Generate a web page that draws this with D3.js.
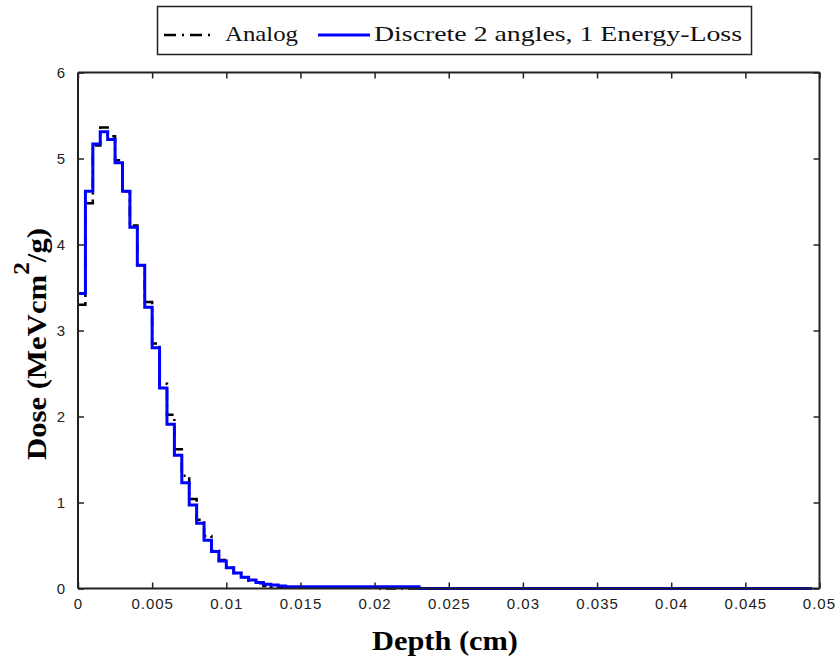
<!DOCTYPE html>
<html>
<head>
<meta charset="utf-8">
<script src="https://cdn.jsdelivr.net/npm/d3@7"></script>
<style>
  html, body { margin: 0; padding: 0; background: #ffffff; }
  svg { display: block; }
</style>
</head>
<body>
<svg id="chart" width="836" height="662"></svg>
<script>
// ---- data ----
const binWidth = 0.0005;
const discrete = [3.43, 4.62, 5.17, 5.31, 5.22, 4.95, 4.62, 4.20, 3.76, 3.27,
  2.80, 2.33, 1.91, 1.55, 1.23, 0.97, 0.76, 0.56, 0.43, 0.32,
  0.24, 0.18, 0.13, 0.10, 0.07, 0.05, 0.04, 0.03, 0.02, 0.02,
  0.02, 0.02, 0.02, 0.02, 0.02, 0.02, 0.02, 0.02, 0.02, 0.02,
  0.02, 0.02, 0.02, 0.02, 0.02, 0.02, 0.0, 0.0, 0.0, 0.0,
  0, 0, 0, 0, 0, 0, 0, 0, 0, 0,
  0, 0, 0, 0, 0, 0, 0, 0, 0, 0,
  0, 0, 0, 0, 0, 0, 0, 0, 0, 0,
  0, 0, 0, 0, 0, 0, 0, 0, 0, 0,
  0, 0, 0, 0, 0, 0, 0, 0, 0, 0];
const analog = [3.30, 4.48, 5.15, 5.36, 5.26, 4.98, 4.62, 4.22, 3.76, 3.33,
  2.85, 2.38, 2.02, 1.62, 1.31, 1.04, 0.80, 0.61, 0.44, 0.33,
  0.24, 0.18, 0.13, 0.09, 0.06, 0.03, 0.02, 0.01, 0.01, 0.01,
  0.01, 0.01, 0.01, 0.01, 0.01, 0.01, 0.01, 0.01, 0.01, 0.01,
  0, 0, 0, 0, 0, 0, 0, 0, 0, 0,
  0, 0, 0, 0, 0, 0, 0, 0, 0, 0,
  0, 0, 0, 0, 0, 0, 0, 0, 0, 0,
  0, 0, 0, 0, 0, 0, 0, 0, 0, 0,
  0, 0, 0, 0, 0, 0, 0, 0, 0, 0,
  0, 0, 0, 0, 0, 0, 0, 0, 0, 0];
const xTicks = [0, 0.005, 0.01, 0.015, 0.02, 0.025, 0.03, 0.035, 0.04, 0.045, 0.05];
const xTickLabels = ["0", "0.005", "0.01", "0.015", "0.02", "0.025", "0.03", "0.035", "0.04", "0.045", "0.05"];
const yTicks = [0, 1, 2, 3, 4, 5, 6];
const yTickLabels = ["0", "1", "2", "3", "4", "5", "6"];
const seriesNames = ["Analog", "Discrete 2 angles, 1 Energy-Loss"];
const xLabel = "Depth (cm)";

// ---- layout ----
const L = 78, R = 819.5, T = 72.5, B = 588.5;
const svg = d3.select("#chart");
const x = d3.scaleLinear().domain([0, 0.05]).range([L, R]);
const y = d3.scaleLinear().domain([0, 6]).range([B, T]);

const tickFont = "'Liberation Sans', Arial, sans-serif";
const serif = "'Liberation Serif', 'Times New Roman', serif";

// lines
const toPts = arr => arr.map((v, i) => [i * binWidth, v]);
const line = d3.line().x(d => x(d[0])).y(d => y(d[1])).curve(d3.curveStepAfter);

const plot = svg.append("g");
plot.append("path").datum(toPts(analog))
  .attr("d", line).attr("fill", "none").attr("stroke", "#000")
  .attr("stroke-width", 2.5).attr("stroke-dasharray", "10,5,2,5");
plot.append("path").datum(toPts(discrete))
  .attr("d", line).attr("fill", "none").attr("stroke", "#0000ff")
  .attr("stroke-width", 3);

// axes (box with inward ticks)
const axisColor = "#222";
const xb = d3.axisBottom(x).tickValues(xTicks).tickSize(-6).tickPadding(10)
  .tickFormat((d, i) => xTickLabels[i]);
const xt = d3.axisTop(x).tickValues(xTicks).tickSize(-6).tickFormat("");
const yl = d3.axisLeft(y).tickValues(yTicks).tickSize(-6).tickPadding(12)
  .tickFormat((d, i) => yTickLabels[i]);
const yr = d3.axisRight(y).tickValues(yTicks).tickSize(-6).tickFormat("");

function style(g) {
  g.selectAll("path.domain").attr("stroke", axisColor).attr("stroke-width", 2);
  g.selectAll(".tick line").attr("stroke", axisColor).attr("stroke-width", 1.5);
  g.selectAll(".tick text").attr("fill", "#222").style("font-family", tickFont)
    .style("font-size", "15px").style("letter-spacing", "1px");
}
svg.append("g").attr("transform", `translate(0,${B})`).call(xb).call(style)
  .call(g => g.select("path.domain").attr("d", `M${L},0H${R}`))
  .call(g => g.selectAll(".tick text").filter((d, i) => i === xTicks.length - 1)
    .attr("text-anchor", "end").attr("x", 16));
svg.append("g").attr("transform", `translate(0,${T})`).call(xt).call(style)
  .call(g => g.select("path.domain").attr("d", `M${L},0H${R}`));
svg.append("g").attr("transform", `translate(${L},0)`).call(yl).call(style)
  .call(g => g.select("path.domain").attr("d", `M0,${T}V${B}`));
svg.append("g").attr("transform", `translate(${R},0)`).call(yr).call(style)
  .call(g => g.select("path.domain").attr("d", `M0,${T}V${B}`));

// axis labels
svg.append("text").attr("x", 445).attr("y", 650)
  .attr("text-anchor", "middle").style("font-family", serif)
  .style("font-weight", "bold").style("font-size", "27px")
  .attr("textLength", 146).attr("lengthAdjust", "spacingAndGlyphs")
  .text(xLabel);

const yt = svg.append("text")
  .attr("transform", "translate(46,344) rotate(-90)")
  .attr("text-anchor", "middle").style("font-family", serif)
  .style("font-weight", "bold").style("font-size", "28px")
  .attr("textLength", 232).attr("lengthAdjust", "spacingAndGlyphs");
yt.append("tspan").text("Dose (MeVcm");
yt.append("tspan").attr("dy", -17).style("font-size", "23px").text("2");
yt.append("tspan").attr("dy", 17).text("/g)");

// legend
const lg = svg.append("g");
lg.append("rect").attr("x", 157.5).attr("y", 6.5).attr("width", 594).attr("height", 48)
  .attr("fill", "#fff").attr("stroke", "#222").attr("stroke-width", 1.5);
lg.append("line").attr("x1", 164).attr("x2", 210).attr("y1", 35).attr("y2", 35)
  .attr("stroke", "#000").attr("stroke-width", 2.5).attr("stroke-dasharray", "12,6,2,6");
lg.append("text").attr("x", 225).attr("y", 41).style("font-family", serif)
  .style("font-size", "22px").attr("fill", "#111")
  .attr("textLength", 73).attr("lengthAdjust", "spacingAndGlyphs").text(seriesNames[0]);
lg.append("line").attr("x1", 318).attr("x2", 370).attr("y1", 35).attr("y2", 35)
  .attr("stroke", "#0000ff").attr("stroke-width", 3);
lg.append("text").attr("x", 374).attr("y", 41).style("font-family", serif)
  .style("font-size", "22px").attr("fill", "#111")
  .attr("textLength", 368).attr("lengthAdjust", "spacingAndGlyphs").text(seriesNames[1]);
</script>
</body>
</html>
